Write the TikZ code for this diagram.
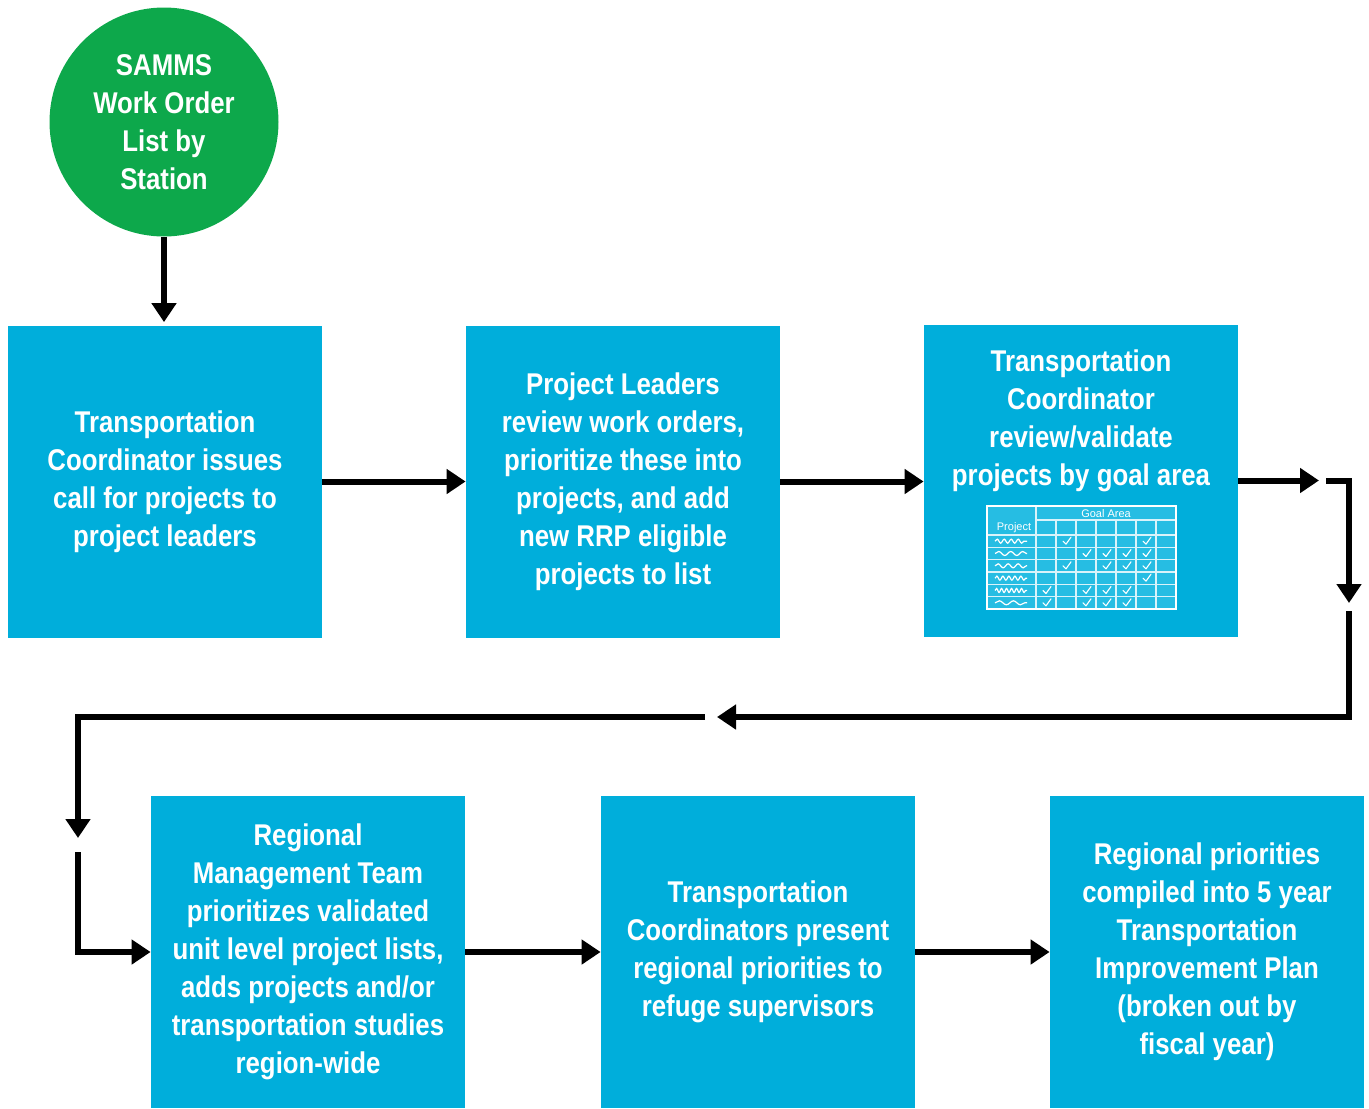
\documentclass[tikz,border=0pt]{standalone}
\usepackage{fontspec}
\setmainfont{Liberation Sans}
\newfontfamily\cond{Liberation Sans}[FakeStretch=0.86]
\usetikzlibrary{arrows.meta,decorations.pathmorphing}
\definecolor{cyanbox}{RGB}{0,174,219}
\definecolor{greenc}{RGB}{13,168,75}
\definecolor{tablefill}{RGB}{38,189,227}
\begin{document}
\begin{tikzpicture}[x=0.5pt,y=-0.5pt,
  boxstyle/.style={fill=cyanbox, draw=none, minimum width=157pt, minimum height=156pt,
    inner sep=0pt, text=white, font=\cond\bfseries\fontsize{15}{19}\selectfont, align=center},
  txt/.style={text=white, font=\cond\bfseries\fontsize{15}{19}\selectfont, align=center, inner sep=0pt},
  circstyle/.style={circle, fill=greenc, minimum size=114.5pt, inner sep=0pt, text=white,
    font=\cond\bfseries\fontsize{15}{19}\selectfont, align=center},
  arr/.style={line width=3pt, -{Triangle[length=9.5pt,width=12pt]}},
  gridline/.style={white!85!cyanbox, line width=0.6pt},
  tick/.style={white, line width=0.55pt, line cap=round, line join=round},
  scrib/.style={white, line width=0.6pt, decorate, decoration={snake, segment length=#1, amplitude=1pt}},
  small/.style={text=white, font=\fontsize{5.5}{6}\selectfont, inner sep=0pt}
]
\useasboundingbox (0,0) rectangle (1369,1108);

% nodes
\node[circstyle] (c) at (164,122) {SAMMS\\Work Order\\List by\\Station};
\node[boxstyle] (b1) at (165,481.5) {Transportation\\Coordinator issues\\call for projects to\\project leaders};
\node[boxstyle] (b2) at (623,481.5) {Project Leaders\\review work orders,\\prioritize these into\\projects, and add\\new RRP eligible\\projects to list};
\node[boxstyle] (b3) at (1081,480.5) {};
\node[txt] (b3t) at (1081,421) {Transportation\\Coordinator\\review/validate\\projects by goal area};
\node[boxstyle] (b4) at (308,952) {Regional\\Management Team\\prioritizes validated\\unit level project lists,\\adds projects and/or\\transportation studies\\region-wide};
\node[boxstyle] (b5) at (758,952) {Transportation\\Coordinators present\\regional priorities to\\refuge supervisors};
\node[boxstyle] (b6) at (1207,952) {Regional priorities\\compiled into 5 year\\Transportation\\Improvement Plan\\(broken out by\\fiscal year)};

% table inside box 3
\fill[tablefill] (987,506) rectangle (1176,609);
\foreach \i in {1,...,6} \draw[gridline] ({1036+20*\i},520) -- ({1036+20*\i},609);
\draw[gridline] (1036,506) -- (1036,609);
\draw[gridline] (1036,520) -- (1176,520);
\draw[gridline] (987,535) -- (1176,535);
\foreach \k in {1,...,5} \draw[gridline] (987,{535+12.33*\k}) -- (1176,{535+12.33*\k});
\draw[white, line width=0.9pt] (987,506) rectangle (1176,609);
\node[small] (ga) at (1106,513.5) {Goal Area};
\node[small] (pr) at (1014,528) {Project};
\foreach \r/\a in {1/3.5pt,2/6pt,3/5pt,4/3pt,5/2.5pt,6/7pt}
  \draw[scrib=\a] (995,{528.83+12.33*\r}) -- (1027,{528.83+12.33*\r});
\foreach \c/\r in {2/1,6/1,3/2,4/2,5/2,6/2,2/3,4/3,5/3,6/3,6/4,1/5,3/5,4/5,5/5,1/6,3/6,4/6,5/6}
  \draw[tick] ({1026+20*\c-3},{528.83+12.33*\r}) -- ++(3,3) -- ++(5,-7);

% connector coordinates
\coordinate (p1) at (1319,480.5);
\coordinate (p2) at (1326,480.5);
\coordinate (p3) at (1349,480.5);
\coordinate (p4) at (1349,603);
\coordinate (p5) at (1349,611);
\coordinate (p6) at (1349,717);
\coordinate (p7) at (717,717);
\coordinate (p8) at (705,717);
\coordinate (p9) at (78,717);
\coordinate (p10) at (78,838);
\coordinate (p11) at (78,852);
\coordinate (p12) at (78,952);

% connectors
\draw[arr, shorten >=1.5pt] (c.south) -- (c.south |- b1.north);
\draw[arr] (b1.east) -- (b2.west);
\draw[arr] (b2.east) -- (b2.east -| b3.west);
\draw[arr] (b3.east) -- (p1);
\draw[arr] (p2) -- (p3) -- (p4);
\draw[arr] (p5) -- (p6) -- (p7);
\draw[arr] (p8) -- (p9) -- (p10);
\draw[arr] (p11) -- (p12) -- (b4.west);
\draw[arr] (b4.east) -- (b5.west);
\draw[arr] (b5.east) -- (b6.west);
\end{tikzpicture}
\end{document}
